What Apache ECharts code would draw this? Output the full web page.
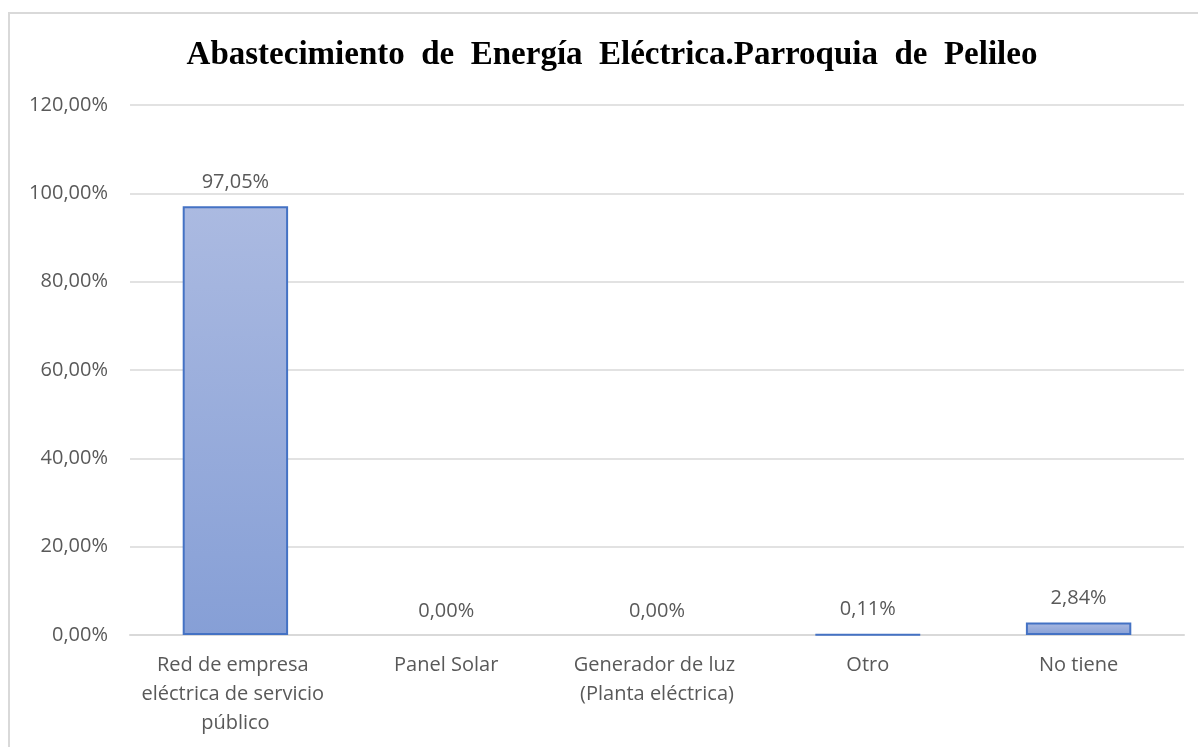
<!DOCTYPE html>
<html>
<head>
<meta charset="utf-8">
<script src="https://cdn.jsdelivr.net/npm/echarts@6/dist/echarts.min.js"></script>
<style>
	html, body { margin: 0; padding: 0; background: #fff; }
	#main { width: 1198px; height: 747px; }
</style>
</head>
<body>
<div id="main"></div>
<script>
var categories = ['Red de empresa eléctrica de servicio público', 'Panel Solar', 'Generador de luz (Planta eléctrica)', 'Otro', 'No tiene'];
var values = [97.05, 0.00, 0.00, 0.11, 2.84];
var yTicks = { min: 0, max: 120, interval: 20 };

function pct(v) {
	return v.toFixed(2).replace('.', ',') + '%';
}

// barras con valor 0 sin borde
var barData = values.map(function (v) {
	return v === 0 ? { value: v, itemStyle: { borderWidth: 0 } } : v;
});

var myChart = echarts.init(document.getElementById('main'));
var option = {
	backgroundColor: '#fff',
	title: {
		text: 'Abastecimiento  de  Energía  Eléctrica.Parroquia  de  Pelileo',
		left: 607,
		top: 34,
		textAlign: 'center',
		textStyle: {
			fontFamily: 'Liberation Serif',
			fontWeight: 'bold',
			fontSize: 33,
			color: '#000'
		}
	},
	// marco del grafico
	graphic: [{
		type: 'rect',
		shape: { x: 9, y: 13, width: 1250, height: 800 },
		style: { fill: 'none', stroke: '#d9d9d9', lineWidth: 2 },
		silent: true
	}],
	grid: { left: 130, right: 14, top: 105, bottom: 112 },
	xAxis: {
		type: 'category',
		data: categories,
		axisLine: { lineStyle: { color: '#d9d9d9', width: 2 } },
		axisTick: { show: false },
		axisLabel: {
			color: '#595959',
			fontFamily: 'Open Sans',
			fontSize: 20,
			lineHeight: 29,
			margin: 16,
			interval: 0,
			width: 200,
			overflow: 'break'
		}
	},
	yAxis: {
		type: 'value',
		min: yTicks.min,
		max: yTicks.max,
		interval: yTicks.interval,
		axisLine: { show: false },
		axisTick: { show: false },
		splitLine: { lineStyle: { color: '#d9d9d9', width: 1.5 } },
		axisLabel: {
			color: '#595959',
			fontFamily: 'Open Sans',
			fontSize: 20,
			margin: 22,
			formatter: function (v) { return pct(v); }
		}
	},
	series: [{
		type: 'bar',
		data: barData,
		barWidth: '50%',
		itemStyle: {
			color: new echarts.graphic.LinearGradient(0, 0, 0, 1, [
				{ offset: 0, color: '#abbae1' },
				{ offset: 1, color: '#869fd6' }
			]),
			borderColor: '#4472c4',
			borderWidth: 2
		},
		label: {
			show: true,
			position: 'top',
			distance: 14,
			color: '#595959',
			fontFamily: 'Open Sans',
			fontSize: 20,
			formatter: function (p) { return pct(p.value); }
		}
	}]
};
myChart.setOption(option);
</script>
</body>
</html>
